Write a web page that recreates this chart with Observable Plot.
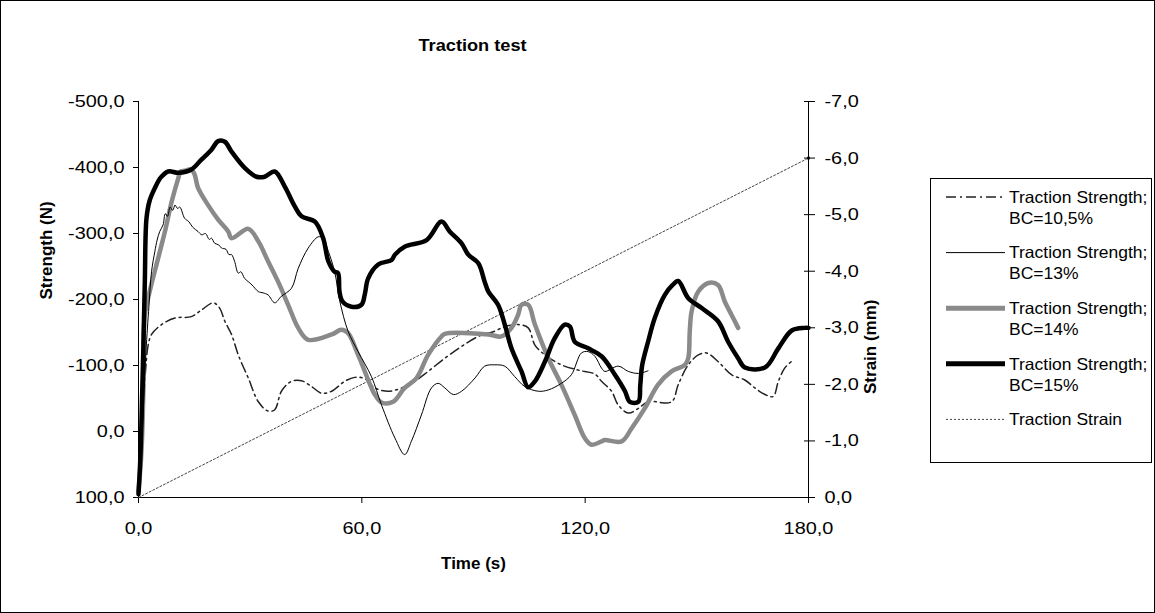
<!DOCTYPE html>
<html><head><meta charset="utf-8">
<script src="https://cdn.jsdelivr.net/npm/d3@7"></script>
<script src="https://cdn.jsdelivr.net/npm/@observablehq/plot@0.6"></script>
<style>
body{margin:0;background:#fff;font-family:"Liberation Sans",Arial,sans-serif;}
#wrap{position:relative;width:1153px;height:611px;border:1px solid #000;overflow:hidden;background:#fff}
#title{position:absolute;left:137px;width:670px;top:35px;text-align:center;font-weight:bold;font-size:17px;color:#000}
#title span{display:inline-block;transform:scaleX(1.07)}
#chart{position:absolute;left:0;top:0}
#legend{position:absolute;left:929px;top:177px;width:222px;height:285px;border:1px solid #000;box-sizing:border-box}
</style></head>
<body><div id="wrap"><div id="title"><span>Traction test</span></div><div id="chart"></div><div id="legend"></div></div>
<script>
// ---- data ----
const xTicks = [0, 60, 120, 180];
const yTicks = [100, 0, -100, -200, -300, -400, -500];
const strainTicks = [0, -1, -2, -3, -4, -5, -6, -7];

const t105 = [0,1.0,2.0,2.6,3.5,6.2,9.8,14.2,16.9,20.1,21.8,23.2,25.0,26.8,29.5,32.2,34.8,36.6,38.4,41.1,43.8,46.5,49.2,51.9,55.4,58.1,60.8,63.5,67.1,70.7,74.2,77.8,82.3,86.8,91.3,95.7,98.4,102.0,104.7,106.5,109.2,113.6,118.1,122.6,124.4,127.1,128.9,131.6,134.3,136.9,143.2,145.0,147.7,150.4,152.6,155.7,159.3,162.9,165.6,168.3,170.5,171.9,173.6,175.4];
const v105 = [95,-10,-100,-131,-147,-162,-172,-174,-184,-195,-187,-167,-147,-116,-81,-45,-31,-33,-61,-76,-77,-68,-58,-61,-76,-82,-80,-66,-61,-66,-76,-91,-111,-129,-144,-152,-159,-162,-157,-131,-116,-101,-93,-87,-76,-61,-40,-28,-35,-45,-45,-71,-101,-116,-119,-106,-86,-78,-66,-56,-53,-76,-96,-106];

const t13 = [0,1.0,2.0,2.8,3.5,4.4,5.0,5.7,6.6,7.2,7.8,8.5,9.2,9.8,10.5,11.1,12.4,13.5,14.5,15.3,16.0,17.0,18.0,19.0,19.6,20.5,21.5,22.3,23.5,24.3,25.0,25.8,26.8,27.5,28.5,29.5,30.5,32.2,33.5,34.8,36.6,38.4,41.1,42.9,45.6,48.3,49.6,51.0,52.7,54.1,56.3,59.0,62.6,65.3,68.9,71.5,73.3,76.0,78.7,80.5,82.3,84.6,86.8,90.4,93.0,95.7,98.4,101.1,103.8,107.4,110.1,113.6,116.3,119.0,120.8,122.6,124.4,125.3,128.9,131.6,134.3,136.9];
const v13 = [95,0,-120,-190,-242,-273,-290,-303,-313,-330,-326,-340,-335,-343,-338,-340,-323,-318,-310,-306,-303,-298,-300,-291,-293,-285,-283,-278,-276,-268,-268,-258,-240,-242,-232,-227,-222,-212,-210,-207,-195,-205,-217,-247,-278,-295,-293,-273,-242,-197,-152,-121,-83,-40,10,35,15,-25,-66,-73,-66,-56,-61,-81,-99,-101,-99,-83,-68,-61,-63,-73,-86,-119,-121,-114,-96,-91,-99,-91,-88,-92];

const t14 = [0,0.8,1.3,1.7,3.0,5.3,7.1,8.9,10.7,11.3,12.4,14.2,15.1,16.0,18.7,21.4,24.1,25.0,29.5,32.2,34.8,37.5,40.2,42.9,45.6,51.9,54.5,56.3,59.0,62.6,63.5,65.3,68.4,71.5,74.7,77.8,81.4,82.3,94.0,97.5,100.2,102.0,102.9,104.7,106.5,110.1,113.6,117.2,119.9,121.7,124.4,125.3,129.8,132.5,136.0,139.6,143.2,146.8,147.7,148.1,148.6,150.4,153.1,155.7,157.5,159.3,161.1];
const v14 = [90,30,-60,-177,-212,-263,-303,-348,-384,-394,-395,-397,-389,-369,-343,-321,-303,-293,-307,-288,-258,-227,-192,-157,-139,-147,-154,-149,-116,-66,-56,-44,-45,-66,-81,-116,-144,-148,-147,-144,-157,-177,-192,-192,-162,-111,-71,-25,10,20,15,13,15,-5,-35,-71,-91,-101,-111,-152,-182,-212,-225,-222,-197,-177,-157];

const t15 = [0,0.5,1.0,1.3,1.7,2.15,3.0,4.4,6.0,8.0,10.7,14.2,16.9,19.6,21.4,23.2,25.0,28.6,31.7,33.9,36.6,39.3,42.0,43.8,47.4,49.6,51.0,52.7,53.6,54.0,54.8,57.2,59.9,60.8,61.7,64.4,68.0,68.9,71.5,77.4,81.4,83.6,86.8,88.6,91.3,93.0,94.0,96.6,98.4,100.2,102.9,104.7,106.5,109.2,111.8,114.5,115.9,117.2,120.8,124.4,128.0,130.7,132.0,134.3,134.8,135.3,136.9,138.7,141.4,143.5,145.0,147.7,151.3,155.7,158.4,161.1,162.9,168.3,171.9,175.5,179.0,180.0];
const v15 = [95,40,-60,-126,-227,-323,-350,-369,-385,-394,-392,-397,-412,-427,-440,-439,-424,-399,-386,-386,-394,-371,-341,-326,-318,-293,-258,-242,-240,-212,-197,-189,-192,-208,-232,-253,-260,-268,-280,-290,-318,-303,-285,-268,-255,-227,-212,-192,-162,-126,-91,-67,-76,-106,-141,-162,-159,-136,-126,-114,-86,-61,-45,-45,-70,-100,-136,-172,-207,-222,-228,-202,-187,-167,-136,-111,-97,-97,-126,-153,-157,-157];

const tStrain = [0, 180];
const vStrain = [0, -6.0];

const legendLabels = [
  ["Traction Strength;", "BC=10,5%"],
  ["Traction Strength;", "BC=13%"],
  ["Traction Strength;", "BC=14%"],
  ["Traction Strength;", "BC=15%"],
  ["Traction Strain"]
];

// ---- helpers ----
const loc = d3.formatLocale({decimal: ",", thousands: ".", grouping: [3], currency: ["", ""], minus: "-"});
const fmt = loc.format(".1f");
const toY = s => 100 + s * 600 / 7;   // strain (right axis) -> strength scale position
const zip = (t, v) => t.map((x, i) => ({t: x, v: v[i]}));

const d105 = zip(t105, v105), d13 = zip(t13, v13), d14 = zip(t14, v14), d15 = zip(t15, v15);
const dStrain = zip(tStrain, vStrain);

const styles = [
  {stroke: "#222", strokeWidth: 1.5, strokeDasharray: "10,4,2,4"},
  {stroke: "#000", strokeWidth: 1},
  {stroke: "#8a8a8a", strokeWidth: 4.5},
  {stroke: "#000", strokeWidth: 4.5},
  {stroke: "#444", strokeWidth: 1, strokeDasharray: "2,2"}
];

const chart = Plot.plot({
  width: 930, height: 611,
  marginLeft: 137, marginRight: 123, marginTop: 100, marginBottom: 115,
  style: {fontFamily: "'Liberation Sans', Arial, sans-serif", fontSize: "17px", color: "#000", background: "transparent"},
  x: {domain: [0, 180]},
  y: {domain: [100, -500]},
  marks: [
    Plot.axisX({ticks: xTicks, tickFormat: fmt, tickSize: 6, tickPadding: 18, label: null}),
    Plot.axisY({anchor: "left", ticks: yTicks, tickFormat: fmt, tickSize: 5, tickPadding: 9, label: null}),
    Plot.axisY({anchor: "right", ticks: strainTicks.map(toY), tickFormat: (d) => fmt(Math.round((d - 100) * 7 / 600 * 10) / 10), tickSize: 6, tickPadding: 10, label: null}),
    Plot.axisY({anchor: "right", ticks: strainTicks.map(toY), tickFormat: () => "", tickSize: -5, label: null}),
    Plot.ruleX([0], {stroke: "#000"}),
    Plot.ruleX([180], {stroke: "#000"}),
    Plot.ruleY([100], {stroke: "#000"}),
    Plot.line(dStrain, {x: "t", y: d => toY(d.v), ...styles[4]}),
    Plot.dot(dStrain.slice(-1), {x: "t", y: d => toY(d.v), symbol: "square", r: 1.5, fill: "#000"}),
    Plot.line(d105, {x: "t", y: "v", curve: "catmull-rom", ...styles[0]}),
    Plot.line(d14, {x: "t", y: "v", curve: "catmull-rom", ...styles[2]}),
    Plot.line(d13, {x: "t", y: "v", curve: "catmull-rom", ...styles[1]}),
    Plot.line(d15, {x: "t", y: "v", curve: "catmull-rom", ...styles[3]}),
    Plot.text(["Strength (N)"], {frameAnchor: "left", text: d => d, rotate: -90, dx: -92, fontWeight: "bold", fontSize: 17}),
    Plot.text(["Strain (mm)"], {frameAnchor: "right", text: d => d, rotate: -90, dx: 62, fontWeight: "bold", fontSize: 17}),
    Plot.text(["Time (s)"], {frameAnchor: "bottom", text: d => d, dy: 71, fontWeight: "bold", fontSize: 17})
  ]
});
document.getElementById("chart").appendChild(chart);

// widen tick labels horizontally to match the reference's stretched glyphs
function stretch(sel, sx) {
  chart.querySelectorAll(sel).forEach(el => {
    let tr = el.getAttribute("transform");
    if (!tr) {
      const x = el.getAttribute("x") || 0, y = el.getAttribute("y") || 0;
      el.removeAttribute("x"); el.removeAttribute("y");
      tr = `translate(${x},${y})`;
    }
    el.setAttribute("transform", `${tr} scale(${sx},1)`);
  });
}
stretch('g[aria-label="x-axis tick label"] text', 1.17);
stretch('g[aria-label="y-axis tick label"] text', 1.17);

// ---- legend ----
const lg = d3.select("#legend").append("svg").attr("width", 220).attr("height", 283)
  .style("font-family", "'Liberation Sans', Arial, sans-serif").style("font-size", "16.5px");
legendLabels.forEach((lines, i) => {
  const y0 = 18 + i * 55.6;
  const s = styles[i];
  lg.append("line").attr("x1", 15).attr("x2", 74).attr("y1", y0).attr("y2", y0)
    .attr("stroke", s.stroke).attr("stroke-width", s.strokeWidth === 4.5 ? 5 : s.strokeWidth)
    .attr("stroke-dasharray", s.strokeDasharray || null);
  lines.forEach((txt, j) => {
    lg.append("text").attr("transform", `translate(78,${y0 + j * 21}) scale(1.06,1)`).attr("dy", "0.35em").text(txt);
  });
});
</script>
</body></html>
